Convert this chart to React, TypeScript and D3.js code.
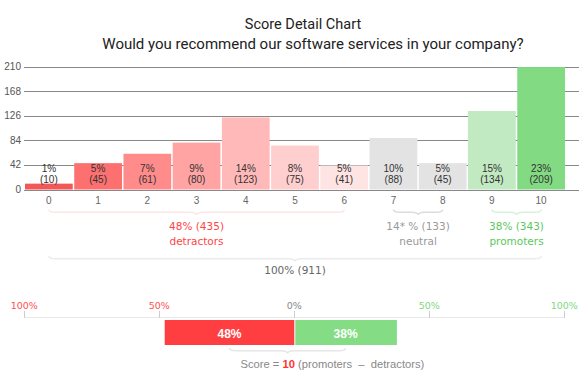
import React from "react";
import * as d3 from "d3";

const scores = ["0", "1", "2", "3", "4", "5", "6", "7", "8", "9", "10"];
const counts = [10, 45, 61, 80, 123, 75, 41, 88, 45, 134, 209];
const pctLabels = ["1%", "5%", "7%", "9%", "14%", "8%", "5%", "10%", "5%", "15%", "23%"];
const barColors = ["#f35858", "#fc7070", "#ff8b8b", "#ffa3a3", "#ffb9b9", "#ffcece", "#ffe4e4", "#e3e3e3", "#e3e3e3", "#c2eac2", "#82da82"];
const yTicks = [0, 42, 84, 126, 168, 210];

const groups = [
  { name: "detractors", from: 0, to: 6, label: "48% (435)", color: "#ff4545", brace: "#fce6e6" },
  { name: "neutral", from: 7, to: 8, label: "14* % (133)", color: "#999999", brace: "#dcdcdc" },
  { name: "promoters", from: 9, to: 10, label: "38% (343)", color: "#5cc85c", brace: "#d6f1d6" },
];
const totalLabel = "100% (911)";

const gaugeTicks = [-100, -50, 0, 50, 100];
const gaugeTickLabels = ["100%", "50%", "0%", "50%", "100%"];
const gaugeTickColors = ["#ff5050", "#ff5050", "#888888", "#7fd87f", "#7fd87f"];
const detractorPct = 48;
const promoterPct = 38;
const scoreValue = 10;

function brace(x1: number, x2: number, y: number, h: number, r = 7) {
  const xm = (x1 + x2) / 2;
  const q = h / 2;
  return `M${x1},${y} Q${x1},${y + q} ${x1 + r},${y + q} L${xm - r},${y + q} Q${xm},${y + q} ${xm},${y + h} Q${xm},${y + q} ${xm + r},${y + q} L${x2 - r},${y + q} Q${x2},${y + q} ${x2},${y}`;
}

export default function App() {
  const W = 579, H = 389;
  const x = d3.scaleBand<string>().domain(scores).range([25, 565]).paddingInner(0.03).paddingOuter(0);
  const y = d3.scaleLinear().domain([0, 210]).range([189.5, 66.5]);
  const cx = (s: string) => (x(s) as number) + x.bandwidth() / 2;
  const g = d3.scaleLinear().domain([-100, 100]).range([24.3, 564.3]);

  const smallFont = "'Liberation Sans', Arial, sans-serif";
  const labelFont = "'DejaVu Sans', Verdana, sans-serif";

  return (
    <svg width={W} height={H} style={{ position: "absolute", left: 0, top: 0, background: "#fff" }}>
      <text x={303} y={29} textAnchor="middle" fontFamily="Roboto, sans-serif" fontSize={14.5} fill="#222">Score Detail Chart</text>
      <text x={313} y={49} textAnchor="middle" fontFamily="Roboto, sans-serif" fontSize={15} fill="#222">Would you recommend our software services in your company?</text>

      {yTicks.map((t) => (
        <g key={t}>
          <line x1={24} x2={579} y1={Math.round(y(t)) + 0.5} y2={Math.round(y(t)) + 0.5} stroke="#888" strokeWidth={1} />
          <text x={21} y={y(t) + 3.5} textAnchor="end" fontFamily={smallFont} fontSize={10} fill="#555">{t}</text>
        </g>
      ))}

      {counts.map((c, i) => (
        <g key={i}>
          <rect x={x(scores[i])} y={y(c)} width={x.bandwidth()} height={y(0) - y(c)} fill={barColors[i]} />
          <text x={cx(scores[i])} y={171.5} textAnchor="middle" fontFamily={smallFont} fontSize={10} fill="#333">{pctLabels[i]}</text>
          <text x={cx(scores[i])} y={182.5} textAnchor="middle" fontFamily={smallFont} fontSize={10} fill="#333">({c})</text>
          <text x={cx(scores[i])} y={203.5} textAnchor="middle" fontFamily={smallFont} fontSize={10} fill="#666">{scores[i]}</text>
        </g>
      ))}

      {groups.map((gr) => {
        const x1 = cx(scores[gr.from]);
        const x2 = cx(scores[gr.to]);
        const xm = (x1 + x2) / 2;
        return (
          <g key={gr.name}>
            <path d={brace(x1, x2, 209.5, 5.5)} fill="none" stroke={gr.brace} strokeWidth={1.5} />
            <text x={xm} y={229.5} textAnchor="middle" fontFamily={labelFont} fontSize={10.5} fill={gr.color}>{gr.label}</text>
            <text x={xm} y={245} textAnchor="middle" fontFamily={labelFont} fontSize={10.5} fill={gr.color}>{gr.name}</text>
          </g>
        );
      })}

      <path d={brace(cx(scores[0]), cx(scores[10]), 256, 5.5)} fill="none" stroke="#ebebeb" strokeWidth={1.5} />
      <text x={(cx(scores[0]) + cx(scores[10])) / 2} y={274} textAnchor="middle" fontFamily={labelFont} fontSize={10.5} fill="#666">{totalLabel}</text>

      <line x1={g(-100)} x2={g(100)} y1={317.5} y2={317.5} stroke="#e8e8e8" strokeWidth={1} />
      {gaugeTicks.map((t, i) => (
        <g key={i}>
          <line x1={Math.round(g(t)) + 0.5} x2={Math.round(g(t)) + 0.5} y1={311} y2={318} stroke="#cccccc" strokeWidth={1} />
          <text x={g(t)} y={309} textAnchor="middle" fontFamily={labelFont} fontSize={9.5} fill={gaugeTickColors[i]}>{gaugeTickLabels[i]}</text>
        </g>
      ))}
      <rect x={g(-detractorPct)} y={320} width={g(0) - g(-detractorPct)} height={25} fill="#ff3e41" />
      <rect x={g(0) + 1} y={320} width={g(promoterPct) - g(0) - 1} height={25} fill="#84dc84" />
      <text x={(g(-detractorPct) + g(0)) / 2} y={338} textAnchor="middle" fontFamily={smallFont} fontSize={12} fontWeight="bold" fill="#fff">{detractorPct}%</text>
      <text x={(g(promoterPct) + g(0)) / 2} y={338} textAnchor="middle" fontFamily={smallFont} fontSize={12} fontWeight="bold" fill="#fff">{promoterPct}%</text>

      <path d={brace((g(-detractorPct) + g(0)) / 2, (g(promoterPct) + g(0)) / 2, 348, 5.5)} fill="none" stroke="#e6e6e6" strokeWidth={1.5} />
      <text x={240.5} y={368} fontFamily={smallFont} fontSize={11.2} fill="#888">
        Score = <tspan fill="#ff3333" fontWeight="bold">{scoreValue}</tspan> (promoters{"\u00a0\u00a0"}–{"\u00a0\u00a0"}detractors)
      </text>
    </svg>
  );
}
